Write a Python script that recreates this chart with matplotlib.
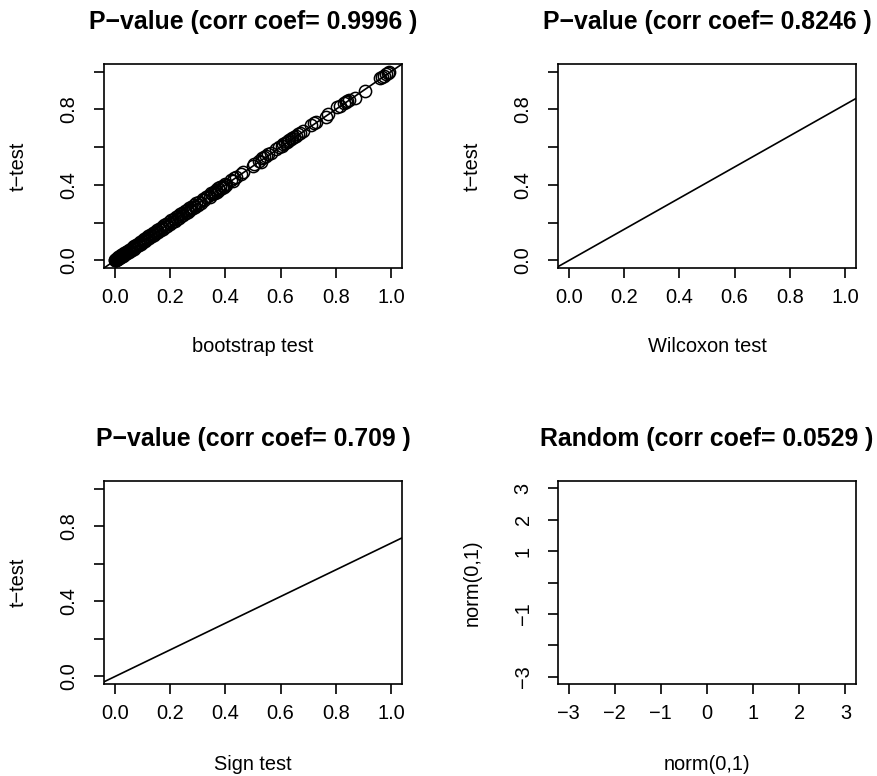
import numpy as np
import matplotlib.pyplot as plt

plt.rcParams["font.family"] = ["Liberation Sans", "DejaVu Sans"]

# p-values (bootstrap test vs t-test)
boot_p = [0.000, 0.001, 0.002, 0.003, 0.004, 0.005, 0.006, 0.008, 0.009, 0.010,
          0.012, 0.013, 0.014, 0.016, 0.017, 0.019, 0.020, 0.022, 0.023, 0.025,
          0.026, 0.028, 0.030, 0.032, 0.034, 0.036, 0.038, 0.040, 0.042, 0.045,
          0.047, 0.050, 0.052, 0.055, 0.058, 0.061, 0.064, 0.067, 0.070, 0.073,
          0.076, 0.080, 0.083, 0.087, 0.090, 0.094, 0.097, 0.101, 0.105, 0.109,
          0.113, 0.117, 0.120, 0.124, 0.128, 0.133, 0.137, 0.141, 0.145, 0.149,
          0.152, 0.156, 0.160, 0.165, 0.170, 0.174, 0.178, 0.182, 0.185, 0.190,
          0.195, 0.200, 0.204, 0.208, 0.212, 0.216, 0.220, 0.224, 0.228, 0.232,
          0.236, 0.240, 0.244, 0.248, 0.252, 0.256, 0.260, 0.264, 0.268, 0.272,
          0.276, 0.281, 0.285, 0.290, 0.295, 0.300, 0.305, 0.312, 0.318, 0.324,
          0.330, 0.338, 0.343, 0.348, 0.353, 0.358, 0.362, 0.366, 0.370, 0.374,
          0.378, 0.382, 0.386, 0.390, 0.394, 0.398, 0.402, 0.420, 0.426, 0.432,
          0.440, 0.455, 0.462, 0.500, 0.505, 0.520, 0.528, 0.532, 0.540, 0.548,
          0.556, 0.566, 0.585, 0.596, 0.604, 0.610, 0.615, 0.622, 0.627, 0.632,
          0.636, 0.640, 0.648, 0.656, 0.664, 0.672, 0.680, 0.712, 0.720, 0.728,
          0.766, 0.772, 0.805, 0.815, 0.828, 0.836, 0.840, 0.848, 0.868, 0.905,
          0.960, 0.968, 0.975, 0.982, 0.988, 0.994]
ttest_p = [0.002, 0.000, 0.005, 0.001, 0.008, 0.003, 0.009, 0.006, 0.013, 0.008,
           0.016, 0.011, 0.018, 0.013, 0.021, 0.017, 0.025, 0.019, 0.028, 0.022,
           0.031, 0.025, 0.035, 0.029, 0.039, 0.033, 0.043, 0.037, 0.047, 0.042,
           0.052, 0.047, 0.057, 0.051, 0.063, 0.057, 0.069, 0.063, 0.076, 0.069,
           0.082, 0.076, 0.089, 0.083, 0.097, 0.089, 0.104, 0.097, 0.112, 0.103,
           0.120, 0.111, 0.127, 0.119, 0.136, 0.127, 0.145, 0.135, 0.153, 0.144,
           0.160, 0.150, 0.169, 0.159, 0.178, 0.168, 0.187, 0.176, 0.192, 0.184,
           0.204, 0.195, 0.212, 0.203, 0.220, 0.211, 0.229, 0.218, 0.237, 0.226,
           0.244, 0.234, 0.252, 0.243, 0.261, 0.251, 0.268, 0.259, 0.277, 0.266,
           0.283, 0.276, 0.292, 0.284, 0.303, 0.296, 0.311, 0.306, 0.324, 0.318,
           0.336, 0.343, 0.337, 0.356, 0.350, 0.365, 0.357, 0.373, 0.365, 0.381,
           0.373, 0.389, 0.381, 0.396, 0.389, 0.403, 0.398, 0.424, 0.420, 0.437,
           0.444, 0.458, 0.466, 0.498, 0.512, 0.526, 0.522, 0.540, 0.546, 0.554,
           0.562, 0.570, 0.588, 0.600, 0.607, 0.618, 0.620, 0.628, 0.633, 0.638,
           0.644, 0.646, 0.653, 0.661, 0.668, 0.676, 0.684, 0.718, 0.726, 0.731,
           0.758, 0.775, 0.812, 0.820, 0.832, 0.841, 0.846, 0.852, 0.858, 0.898,
           0.964, 0.972, 0.979, 0.986, 0.990, 0.997]

corr_coefs = [0.9996, 0.8246, 0.709, 0.0529]
titles = ["P\u2212value (corr coef= 0.9996 )", "P\u2212value (corr coef= 0.8246 )",
          "P\u2212value (corr coef= 0.709 )", "Random (corr coef= 0.0529 )"]
xlabels = ["bootstrap test", "Wilcoxon test", "Sign test", "norm(0,1)"]
ylabels = ["t\u2212test", "t\u2212test", "t\u2212test", "norm(0,1)"]

p_ticks = [0.0, 0.2, 0.4, 0.6, 0.8, 1.0]
p_xticklabels = ["0.0", "0.2", "0.4", "0.6", "0.8", "1.0"]
p_yticklabels = ["0.0", "", "0.4", "", "0.8", ""]
n_ticks = [-3, -2, -1, 0, 1, 2, 3]
n_xticklabels = ["\u22123", "\u22122", "\u22121", "0", "1", "2", "3"]
n_yticklabels = ["\u22123", "", "\u22121", "", "1", "2", "3"]

W, H = 878, 776
fig = plt.figure(figsize=(W / 100, H / 100), dpi=100)

# panel boxes in pixels: left, top, right, bottom
boxes = [(104, 64, 402, 268), (558, 64, 856, 268),
         (104, 481, 402, 684), (558, 481, 856, 684)]

axes = []
for i, (l, t, r, b) in enumerate(boxes):
    ax = fig.add_axes([l / W, 1 - b / H, (r - l) / W, (b - t) / H])
    axes.append(ax)
    for s in ax.spines.values():
        s.set_linewidth(1.2)
        s.set_color("black")
    ax.tick_params(direction="out", length=7.2, width=1.2, labelsize=14.4)
    ax.tick_params(axis="x", pad=7)
    ax.tick_params(axis="y", pad=11)
    if i < 3:
        ax.set_xlim(-0.04, 1.04)
        ax.set_ylim(-0.04, 1.04)
        ax.set_xticks(p_ticks)
        ax.set_xticklabels(p_xticklabels)
        ax.set_yticks(p_ticks)
        ax.set_yticklabels(p_yticklabels, rotation=90, va="center")
    else:
        ax.set_xlim(-3.23, 3.23)
        ax.set_ylim(-3.23, 3.23)
        ax.set_xticks(n_ticks)
        ax.set_xticklabels(n_xticklabels)
        ax.set_yticks(n_ticks)
        ax.set_yticklabels(n_yticklabels, rotation=90, va="center")

    cx = (l + r) / 2
    ty = 22 if t < 300 else 439
    xy = 347 if t < 300 else 764
    yx = 18 if l < 300 else 472
    fig.text(cx / W, 1 - ty / H, titles[i], ha="center", va="center",
             fontsize=17.9, fontweight="bold")
    fig.text(cx / W, 1 - xy / H, xlabels[i], ha="center", va="center", fontsize=14.4)
    fig.text(yx / W, 1 - ((t + b) / 2) / H, ylabels[i], ha="center", va="center",
             rotation=90, fontsize=14.4)

# scatter of p-values in the first panel
axes[0].plot(boot_p, ttest_p, "o", mfc="none", mec="black", ms=8.8, mew=1.1)

# reference lines y = coef * x across the plotting region
for ax, c in zip(axes[:3], corr_coefs[:3]):
    xs = np.array(ax.get_xlim())
    ax.plot(xs, c * xs, color="black", lw=1.2)
    ax.set_xlim(-0.04, 1.04)

fig.savefig("out.png", dpi=100)
